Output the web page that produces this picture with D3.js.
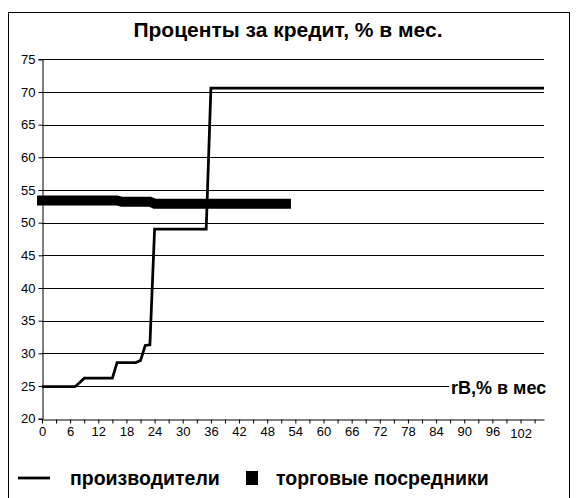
<!DOCTYPE html>
<html>
<head>
<meta charset="utf-8">
<script src="https://cdn.jsdelivr.net/npm/d3@7/dist/d3.min.js"></script>
<style>
  html, body { margin: 0; padding: 0; background: #fff; }
  svg { display: block; font-family: "Liberation Sans", Arial, sans-serif; }
</style>
</head>
<body>
<svg id="chart" width="578" height="498"></svg>
<script>
// Interest on credit (% per month) against rB (% per month)
const titleText = "Проценты за кредит, % в мес.";
const xAxisLabel = "rB,% в мес";
const seriesNames = ["производители", "торговые посредники"];

// producers: step curve over rB from 0 to 107
const producerX = [0, 7, 8, 9, 15, 16, 20, 21, 22, 23, 24, 35, 36, 107];
const producerY = [24.9, 24.9, 25.5, 26.2, 26.2, 28.6, 28.6, 28.9, 31.2, 31.3, 49.0, 49.0, 70.6, 70.6];

// trade intermediaries
const traderX = [0, 16, 17, 23, 24, 52];
const traderY = [53.4, 53.4, 53.2, 53.2, 52.9, 52.9];

const yTicks = [20, 25, 30, 35, 40, 45, 50, 55, 60, 65, 70, 75];
const xMinorTicks = d3.range(0, 106, 3);

const svg = d3.select("#chart");

// outer frame
svg.append("rect")
  .attr("x", 8.5).attr("y", 12.5)
  .attr("width", 561).attr("height", 492)
  .attr("fill", "#fff").attr("stroke", "#000").attr("stroke-width", 1);

const x = d3.scaleLinear().domain([0, 107]).range([42, 544]);
const y = d3.scaleLinear().domain([20, 75]).range([418.7, 59.3]);

// title
svg.append("text")
  .attr("x", 288).attr("y", 37)
  .attr("text-anchor", "middle")
  .attr("font-weight", "bold").attr("font-size", 21)
  .text(titleText);

// horizontal gridlines
svg.append("g")
  .selectAll("line")
  .data(yTicks.filter(v => v > 20))
  .join("line")
  .attr("x1", x(0)).attr("x2", x(107))
  .attr("y1", d => Math.round(y(d)) + 0.5)
  .attr("y2", d => Math.round(y(d)) + 0.5)
  .attr("stroke", "#000").attr("stroke-width", 1);

// y axis
const yAxis = d3.axisLeft(y).tickValues(yTicks).tickSize(4).tickPadding(3);
const gy = svg.append("g").attr("transform", `translate(${Math.round(x(0)) + 0.5},0)`).call(yAxis);
gy.select(".domain").attr("stroke", "#000");
gy.selectAll(".tick line").attr("stroke", "#000");
gy.selectAll(".tick text")
  .attr("font-size", 13).attr("font-family", "Liberation Sans, Arial, sans-serif").attr("fill", "#000");

// x axis: minor ticks every 3, labels every 6
const xAxis = d3.axisBottom(x).tickValues(xMinorTicks).tickSize(4).tickSizeOuter(0)
  .tickFormat(d => (d % 6 === 0 && d <= 102) ? d : "");
const gx = svg.append("g").attr("transform", `translate(0,${Math.round(y(20)) + 0.5})`).call(xAxis);
gx.select(".domain").attr("stroke", "#000");
gx.selectAll(".tick line").attr("stroke", "#000");
gx.selectAll(".tick text")
  .attr("font-size", 13).attr("font-family", "Liberation Sans, Arial, sans-serif").attr("fill", "#000")
  .attr("dy", d => d === 102 ? "0.85em" : "0.71em");

// axis title sitting on the 25 gridline
const lblG = svg.append("g");
lblG.append("rect")
  .attr("x", 449).attr("y", 378).attr("width", 104).attr("height", 20)
  .attr("fill", "#fff");
lblG.append("text")
  .attr("x", 451).attr("y", 394)
  .attr("font-weight", "bold").attr("font-size", 18)
  .text(xAxisLabel);

// series lines
const line = d3.line().x(d => x(d[0])).y(d => y(d[1]));

svg.append("path")
  .datum(d3.zip(traderX, traderY))
  .attr("d", line)
  .attr("fill", "none").attr("stroke", "#000")
  .attr("stroke-width", 10).attr("stroke-linecap", "square");

svg.append("path")
  .datum(d3.zip(producerX, producerY))
  .attr("d", line)
  .attr("fill", "none").attr("stroke", "#000")
  .attr("stroke-width", 2.75).attr("stroke-linejoin", "miter");

// legend
const leg = svg.append("g");
leg.append("line")
  .attr("x1", 18).attr("x2", 50).attr("y1", 478).attr("y2", 478)
  .attr("stroke", "#000").attr("stroke-width", 2.75);
leg.append("text")
  .attr("x", 70).attr("y", 485)
  .attr("font-weight", "bold").attr("font-size", 19.5)
  .text(seriesNames[0]);
leg.append("rect")
  .attr("x", 246).attr("y", 471).attr("width", 12).attr("height", 14)
  .attr("fill", "#000");
leg.append("text")
  .attr("x", 276).attr("y", 485)
  .attr("font-weight", "bold").attr("font-size", 19.5)
  .text(seriesNames[1]);
</script>
</body>
</html>
